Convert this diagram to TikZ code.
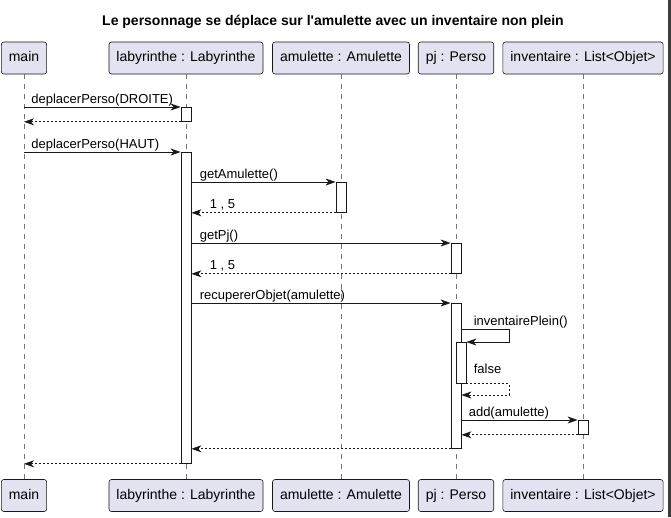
\documentclass[tikz,border=0pt]{standalone}
\usepackage{fontspec}
\setmainfont{Liberation Sans}
\usepackage{xcolor}
\usepackage{tikz}
\usetikzlibrary{arrows.meta,positioning,calc}
\definecolor{partfill}{HTML}{E2E2F0}
\definecolor{umlline}{HTML}{181818}
\definecolor{edgebar}{HTML}{3C3C3C}

\begin{document}
\begin{tikzpicture}[x=1pt,y=-1pt,
	part/.style={draw=umlline,line width=0.6pt,fill=partfill,rounded corners=2.5pt,
		minimum height=32pt,inner xsep=7.5pt,inner ysep=0pt,text height=10pt,text depth=3pt,
		font=\fontsize{14}{16}\selectfont},
	lifeline/.style={umlline!60,line width=0.5pt,dash pattern=on 5pt off 5pt},
	act/.style={draw=umlline,fill=white,line width=0.8pt,minimum width=10pt,inner sep=0pt,anchor=north},
	call/.style={umlline,line width=0.8pt,-{Stealth[length=10pt,width=7pt,inset=3pt]}},
	ret/.style={call,dash pattern=on 2pt off 2pt},
	lbl/.style={font=\fontsize{13}{15}\selectfont,text=black,anchor=base west,inner sep=0pt,yshift=4pt}]
	\useasboundingbox (0,0) rectangle (671,517);
	\fill[white] (0,0) rectangle (671,517);
	\fill[edgebar] (668,0) rectangle (671,517);
	% title
	\node[font=\bfseries\fontsize{14}{16}\selectfont] (title) at (333,22) {Le personnage se déplace sur l\textquotesingle amulette avec un inventaire non plein};
	% participants, top and bottom
	\node[part] (mainT) at (24,58) {main};
	\node[part] (labT) at (186,58) {labyrinthe : Labyrinthe};
	\node[part] (amuT) at (341,58) {amulette : Amulette};
	\node[part] (pjT) at (456,58) {pj : Perso};
	\node[part] (invT) at (583,58) {inventaire : List<Objet>};
	\node[part] (mainB) at (24,495.5) {main};
	\node[part] (labB) at (186,495.5) {labyrinthe : Labyrinthe};
	\node[part] (amuB) at (341,495.5) {amulette : Amulette};
	\node[part] (pjB) at (456,495.5) {pj : Perso};
	\node[part] (invB) at (583,495.5) {inventaire : List<Objet>};
	% lifelines
	\draw[lifeline] (mainT) -- (mainB);
	\draw[lifeline] (labT) -- (labB);
	\draw[lifeline] (amuT) -- (amuB);
	\draw[lifeline] (pjT) -- (pjB);
	\draw[lifeline] (invT) -- (invB);
	% activations
	\node[act,minimum height=14pt] (labA1) at (186,107) {};
	\node[act,minimum height=311pt] (labA2) at (186,152) {};
	\node[act,minimum height=30pt] (amuA) at (341,182) {};
	\node[act,minimum height=30pt] (pjA1) at (456,243) {};
	\node[act,minimum height=145pt] (pjA2) at (456,303) {};
	\node[act,minimum height=41pt] (pjA3) at (461,342) {};
	\node[act,minimum height=14pt] (invA) at (583,420) {};
	\coordinate (selfR) at (509,329);
	\coordinate (falseB) at (509,395);
	% messages
	\draw[call] (mainT |- labA1.north) -- (labA1.north west) node[lbl,pos=0,xshift=7pt] {deplacerPerso(DROITE)};
	\draw[ret] (labA1.south west) -- (mainT |- labA1.south);
	\draw[call] (mainT |- labA2.north) -- (labA2.north west) node[lbl,pos=0,xshift=7pt] {deplacerPerso(HAUT)};
	\draw[call] (labA2.east |- amuA.north) -- (amuA.north west) node[lbl,pos=0,xshift=8pt] {getAmulette()};
	\draw[ret] (amuA.south west) -- (labA2.east |- amuA.south) node[lbl,pos=1,xshift=18pt] {1 , 5};
	\draw[call] (labA2.east |- pjA1.north) -- (pjA1.north west) node[lbl,pos=0,xshift=8pt] {getPj()};
	\draw[ret] (pjA1.south west) -- (labA2.east |- pjA1.south) node[lbl,pos=1,xshift=18pt] {1 , 5};
	\draw[call] (labA2.east |- pjA2.north) -- (pjA2.north west) node[lbl,pos=0,xshift=8pt] {recupererObjet(amulette)};
	\draw[call] (pjA2.east |- selfR) node[lbl,xshift=12pt] {inventairePlein()} -- (selfR) |- (pjA3.north east);
	\draw[ret] (pjA3.south east) node[lbl,xshift=7pt,yshift=6pt] {false} -| (falseB) -- (pjA2.east |- falseB);
	\draw[call] (pjA2.east |- invA.north) -- (invA.north west) node[lbl,pos=0,xshift=7pt] {add(amulette)};
	\draw[ret] (invA.south west) -- (pjA2.east |- invA.south);
	\draw[ret] (pjA2.south west) -- (labA2.east |- pjA2.south);
	\draw[ret] (labA2.south west) -- (mainT |- labA2.south);
\end{tikzpicture}
\end{document}
